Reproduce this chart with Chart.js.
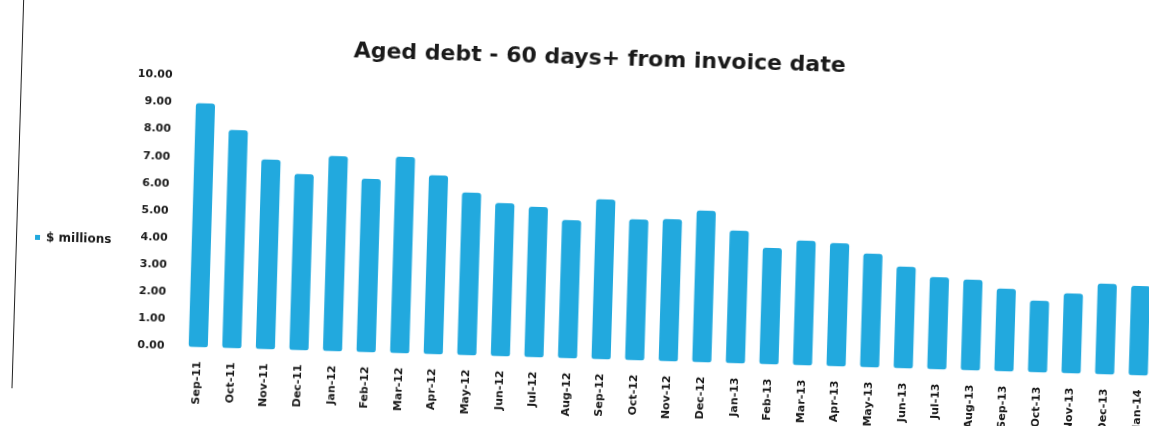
<!DOCTYPE html>
<html>
<head>
<meta charset="utf-8">
<script src="https://cdn.jsdelivr.net/npm/chart.js@4"></script>
<style>
  html, body { margin: 0; padding: 0; background: #fff; overflow: hidden; }
  #sheet {
    position: absolute; left: 0; top: 0; width: 1149px; height: 426px;
    transform-origin: 574px 213px; transform: rotate(1.72deg);
  }
  #edge { position: absolute; left: 17px; top: -20px; height: 425px; border-left: 1.5px solid #222; }
  #chart { position: absolute; left: 0; top: 0; }
</style>
</head>
<body>
<div id="sheet">
  <div id="edge"></div>
  <canvas id="chart" width="1162" height="426"></canvas>
</div>
<script>
const months = [
  "Sep-11", "Oct-11", "Nov-11", "Dec-11",
  "Jan-12", "Feb-12", "Mar-12", "Apr-12", "May-12", "Jun-12",
  "Jul-12", "Aug-12", "Sep-12", "Oct-12", "Nov-12", "Dec-12",
  "Jan-13", "Feb-13", "Mar-13", "Apr-13", "May-13", "Jun-13",
  "Jul-13", "Aug-13", "Sep-13", "Oct-13", "Nov-13", "Dec-13",
  "Jan-14",
];
const debtMillions = [
  9.0, 8.05, 7.0, 6.5,
  7.2, 6.4, 7.25, 6.6, 6.0, 5.65,
  5.55, 5.1, 5.9, 5.2, 5.25, 5.6,
  4.9, 4.3, 4.6, 4.55, 4.2, 3.75,
  3.4, 3.35, 3.05, 2.65, 2.95, 3.35,
  3.3,
];
const yTicks = [0, 1, 2, 3, 4, 5, 6, 7, 8, 9, 10];

const barBlue = "#22a9de";
const inkColor = "#1a1a1a";
const face = "'DejaVu Sans'";

new Chart(document.getElementById("chart"), {
  type: "bar",
  data: {
    labels: months,
    datasets: [
      {
        label: "$ millions",
        data: debtMillions,
        backgroundColor: barBlue,
        borderRadius: 3,
        borderSkipped: false,
        barPercentage: 0.57,
        categoryPercentage: 1,
      },
    ],
  },
  options: {
    responsive: false,
    animation: false,
    layout: { padding: { left: 28, right: 0, top: 0, bottom: 0 } },
    plugins: {
      title: {
        display: true,
        text: "Aged debt - 60 days+ from invoice date",
        color: inkColor,
        font: { family: face, size: 22, weight: "bold" },
        padding: { top: 45, bottom: 16 },
      },
      legend: {
        position: "left",
        // empty title only pushes the single legend entry down to mid-height
        title: { display: true, text: " ", font: { size: 1, lineHeight: 1 }, padding: { top: 80, bottom: 0 } },
        labels: {
          boxWidth: 5,
          boxHeight: 5,
          padding: 8,
          color: inkColor,
          font: { family: face, size: 12, weight: "bold" },
        },
      },
      tooltip: { enabled: false },
    },
    scales: {
      x: {
        afterFit: (scale) => { scale.height = 67.5; },
        grid: { display: false },
        border: { display: false },
        ticks: {
          color: inkColor,
          font: { family: face, size: 11, weight: "bold" },
          minRotation: 90,
          maxRotation: 90,
          padding: 6,
          autoSkip: false,
        },
      },
      y: {
        min: 0,
        max: 10,
        afterFit: (scale) => { scale.width = 63.2; },
        afterBuildTicks: (scale) => {
          scale.ticks = yTicks.map((v) => ({ value: v }));
        },
        grid: { display: false },
        border: { display: false },
        ticks: {
          color: inkColor,
          font: { family: face, size: 11, weight: "bold" },
          padding: 9,
          callback: (v) => Number(v).toFixed(2),
        },
      },
    },
  },
});
</script>
</body>
</html>
